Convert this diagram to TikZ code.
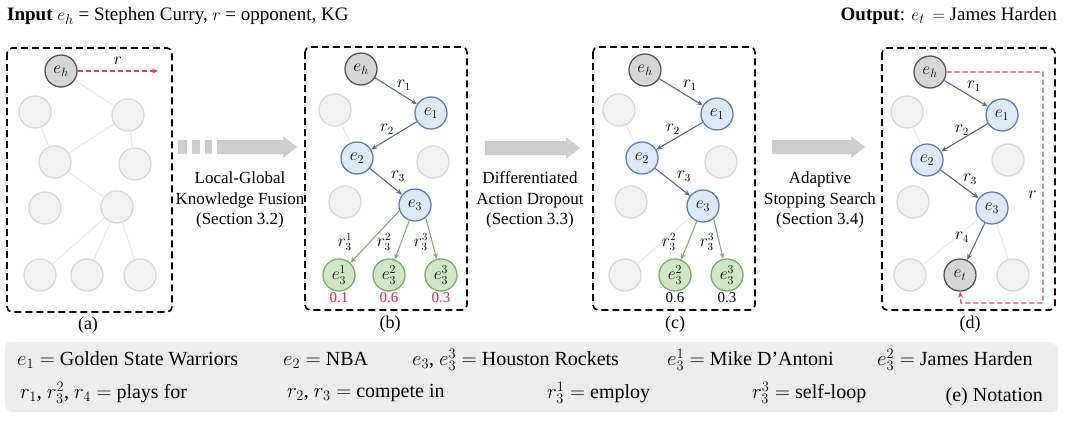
\documentclass[tikz,border=0pt]{standalone}
\usepackage{fontspec}
\setmainfont{LiberationSerif}[Extension=.ttf,UprightFont=*-Regular,BoldFont=*-Bold,ItalicFont=*-Italic,BoldItalicFont=*-BoldItalic]
\usetikzlibrary{arrows.meta}
\definecolor{headfill}{RGB}{214,214,214}
\definecolor{headdraw}{RGB}{85,85,85}
\definecolor{bluefill}{RGB}{222,233,248}
\definecolor{bluedraw}{RGB}{96,126,190}
\definecolor{greenfill}{RGB}{208,230,198}
\definecolor{greendraw}{RGB}{128,170,108}
\definecolor{fadefill}{RGB}{242,242,242}
\definecolor{fadedraw}{RGB}{216,216,216}
\definecolor{reledge}{RGB}{92,108,145}
\definecolor{greenedge}{RGB}{140,170,120}
\definecolor{faintedge}{RGB}{230,230,230}
\definecolor{redline}{RGB}{214,70,95}
\definecolor{redtext}{RGB}{220,40,70}
\definecolor{fatarrow}{RGB}{206,206,206}
\definecolor{notebg}{RGB}{236,236,236}
\tikzset{
  ent/.style={circle,minimum size=32pt,inner sep=0pt,line width=1.3pt,font=\fontsize{18}{20}\selectfont},
  headn/.style={ent,fill=headfill,draw=headdraw},
  bluen/.style={ent,fill=bluefill,draw=bluedraw},
  greenn/.style={ent,fill=greenfill,draw=greendraw},
  faden/.style={ent,fill=fadefill,draw=fadedraw},
  reln/.style={draw=reledge,line width=1.1pt,-{Stealth[length=6pt,width=5pt]}},
  greenrel/.style={draw=greenedge,line width=1.1pt,-{Stealth[length=6pt,width=5pt]}},
  faint/.style={draw=faintedge,line width=0.9pt},
  redrel/.style={draw=redline,line width=1.2pt,dashed,dash pattern=on 5pt off 3pt,-{Stealth[length=6pt,width=5pt]}},
  panel/.style={draw=black,line width=1.6pt,dash pattern=on 7pt off 4pt,rounded corners=5pt},
  lab/.style={inner sep=0pt,font=\fontsize{16}{18}\selectfont},
  txt/.style={inner sep=0pt,font=\fontsize{18}{20}\selectfont},
  ttl/.style={inner sep=0pt,font=\fontsize{19}{22}\selectfont},
  note/.style={inner sep=0pt,anchor=west,font=\fontsize{20}{22}\selectfont},
  sect/.style={inner sep=0pt,align=center,font=\fontsize{17}{20.5}\selectfont},
  prob/.style={inner sep=0pt,font=\fontsize{15}{17}\selectfont},
}
\begin{document}
\begin{tikzpicture}[x=1pt,y=-1pt]
\useasboundingbox[fill=white] (0,0) rectangle (1065,423);

% titles
\node[ttl,anchor=west] (intitle) at (7,16) {\textbf{Input} $e_h$ = Stephen Curry, $r$ = opponent, KG};
\node[ttl,anchor=east] (outtitle) at (1057,16) {\textbf{Output}: $e_t\,=$ James Harden};

% panel boxes
\draw[panel] (7,48) rectangle (172,312);
\draw[panel] (305,47) rectangle (467,310);
\draw[panel] (593,47) rectangle (755,310);
\draw[panel] (882,48) rectangle (1055,310);
\node[txt] (la) at (88,325) {(a)};
\node[txt] (lb) at (390,324) {(b)};
\node[txt] (lc) at (675,324) {(c)};
\node[txt] (ld) at (970,324) {(d)};

% ---------- panel (a)
\node[faden] (a1) at (35,112) {};
\node[faden] (a2) at (128,115) {};
\node[faden] (a3) at (55,162) {};
\node[faden] (a4) at (135,164) {};
\node[faden] (a5) at (45,208) {};
\node[faden] (a6) at (117,207) {};
\node[faden] (a7) at (40,275) {};
\node[faden] (a8) at (87,275) {};
\node[faden] (a9) at (140,275) {};
\node[headn] (aeh) at (61,71) {$e_h$};
\draw[faint] (aeh) -- (a2);
\draw[faint] (a3) -- (a1);
\draw[faint] (a2) -- (a3);
\draw[faint] (a2) -- (a4);
\draw[faint] (a3) -- (a6);
\draw[faint] (a6) -- (a7);
\draw[faint] (a6) -- (a8);
\draw[faint] (a6) -- (a9);
\coordinate (aend) at (158,71);
\draw[redrel] (aeh) -- node[lab,above=6pt] {$r$} (aend);

% ---------- panel (b)
\node[faden] (bg1) at (335,110) {};
\node[faden] (bg2) at (433,162) {};
\node[faden] (bg3) at (345,202) {};
\node[headn] (beh) at (361,69) {$e_h$};
\node[bluen] (be1) at (431,113) {$e_1$};
\node[bluen] (be2) at (357,158) {$e_2$};
\node[bluen] (be3) at (415,205) {$e_3$};
\node[greenn] (be31) at (339,275) {$e_3^1$};
\node[greenn] (be32) at (389,275) {$e_3^2$};
\node[greenn] (be33) at (441,275) {$e_3^3$};
\draw[faint] (bg1) -- (be2);
\draw[reln] (beh) -- (be1);
\draw[reln] (be1) -- (be2);
\draw[reln] (be2) -- (be3);
\draw[greenrel] (be3.200) -- (be31);
\draw[greenrel] (be3) -- (be32);
\draw[greenrel] (be3.-50) -- (be33);
\node[lab] (br1) at (404,85) {$r_1$};
\node[lab] (br2) at (387,129) {$r_2$};
\node[lab] (br3) at (398,176) {$r_3$};
\node[lab] (br31) at (345,242) {$r_3^1$};
\node[lab] (br32) at (384,242) {$r_3^2$};
\node[lab] (br33) at (421,242) {$r_3^3$};
\node[prob,text=redtext] (bp1) at (339,298) {0.1};
\node[prob,text=redtext] (bp2) at (389,298) {0.6};
\node[prob,text=redtext] (bp3) at (441,298) {0.3};

% ---------- panel (c)
\node[faden] (cg1) at (619,110) {};
\node[faden] (cg2) at (721,162) {};
\node[faden] (cg3) at (631,202) {};
\node[faden] (cg4) at (625,275) {};
\node[headn] (ceh) at (645,70) {$e_h$};
\node[bluen] (ce1) at (717,114) {$e_1$};
\node[bluen] (ce2) at (642,158) {$e_2$};
\node[bluen] (ce3) at (703,206) {$e_3$};
\node[greenn] (ce32) at (675,275) {$e_3^2$};
\node[greenn] (ce33) at (727,275) {$e_3^3$};
\draw[faint] (cg1) -- (ce2);
\draw[faint] (ce3) -- (cg4);
\draw[reln] (ceh) -- (ce1);
\draw[reln] (ce1) -- (ce2);
\draw[reln] (ce2) -- (ce3);
\draw[greenrel] (ce3) -- (ce32);
\draw[greenrel] (ce3.-50) -- (ce33);
\node[lab] (cr1) at (690,85) {$r_1$};
\node[lab] (cr2) at (673,129) {$r_2$};
\node[lab] (cr3) at (684,176) {$r_3$};
\node[lab] (cr32) at (669,242) {$r_3^2$};
\node[lab] (cr33) at (707,242) {$r_3^3$};
\node[prob] (cp2) at (675,298) {0.6};
\node[prob] (cp3) at (727,298) {0.3};

% ---------- panel (d)
\node[faden] (dg1) at (907,112) {};
\node[faden] (dg2) at (1008,160) {};
\node[faden] (dg3) at (913,202) {};
\node[faden] (dg4) at (910,275) {};
\node[faden] (dg5) at (1013,275) {};
\node[headn] (deh) at (930,72) {$e_h$};
\node[bluen] (de1) at (1002,115) {$e_1$};
\node[bluen] (de2) at (927,160) {$e_2$};
\node[bluen] (de3) at (992,208) {$e_3$};
\node[headn] (det) at (960,275) {$e_t$};
\draw[faint] (dg1) -- (de2);
\draw[faint] (de3) -- (dg4);
\draw[faint] (de3) -- (dg5);
\draw[reln] (deh) -- (de1);
\draw[reln] (de1) -- (de2);
\draw[reln] (de2) -- (de3);
\draw[reln] (de3) -- (det);
\node[lab] (dr1) at (974,86) {$r_1$};
\node[lab] (dr2) at (962,130) {$r_2$};
\node[lab] (dr3) at (970,179) {$r_3$};
\node[lab] (dr4) at (962,237) {$r_4$};
\coordinate (dc1) at (1043,72);
\coordinate (dc2) at (1043,303);
\coordinate (dc3) at (961,303);
\draw[redrel] (deh.east) -- (dc1) -- node[lab,pos=0.53,left=6pt] {$r$} (dc2) -- (dc3) -- (det.south);

% ---------- fat arrows
\fill[fatarrow] (178,140) rectangle (187,154);
\fill[fatarrow] (192,140) rectangle (200,154);
\fill[fatarrow] (205,140) rectangle (212,154);
\fill[fatarrow] (217,140) -- (283,140) -- (283,136) -- (297,147) -- (283,158) -- (283,154) -- (217,154) -- cycle;
\fill[fatarrow] (485,141) -- (566,141) -- (566,137) -- (580,148) -- (566,159) -- (566,155) -- (485,155) -- cycle;
\fill[fatarrow] (772,140) -- (851,140) -- (851,136) -- (865,147) -- (851,158) -- (851,154) -- (772,154) -- cycle;

\node[sect] (s1) at (240,200) {Local-Global\\Knowledge Fusion\\(Section 3.2)};
\node[sect] (s2) at (530,200) {Differentiated\\Action Dropout\\(Section 3.3)};
\node[sect] (s3) at (820,200) {Adaptive\\Stopping Search\\(Section 3.4)};

% ---------- notation
\fill[black!8] (7,344) [rounded corners=5pt] rectangle (1058,412);
\fill[notebg] (5,342) [rounded corners=5pt] rectangle (1055,410);
\node[note] (n1) at (17,360) {$e_1 =$ Golden State Warriors};
\node[note] (n2) at (283,360) {$e_2 =$ NBA};
\node[note] (n3) at (412,360) {$e_3$, $e_3^3 =$ Houston Rockets};
\node[note] (n4) at (667,360) {$e_3^1 =$ Mike D'Antoni};
\node[note] (n5) at (877,360) {$e_3^2 =$ James Harden};
\node[note] (m1) at (20,393) {$r_1$, $r_3^2$, $r_4 =$ plays for};
\node[note] (m2) at (287,393) {$r_2$, $r_3 =$ compete in};
\node[note] (m3) at (547,393) {$r_3^1 =$ employ};
\node[note] (m4) at (752,393) {$r_3^3 =$ self-loop};
\node[note,anchor=east] (m5) at (1043,397) {(e) Notation};
\end{tikzpicture}
\end{document}
